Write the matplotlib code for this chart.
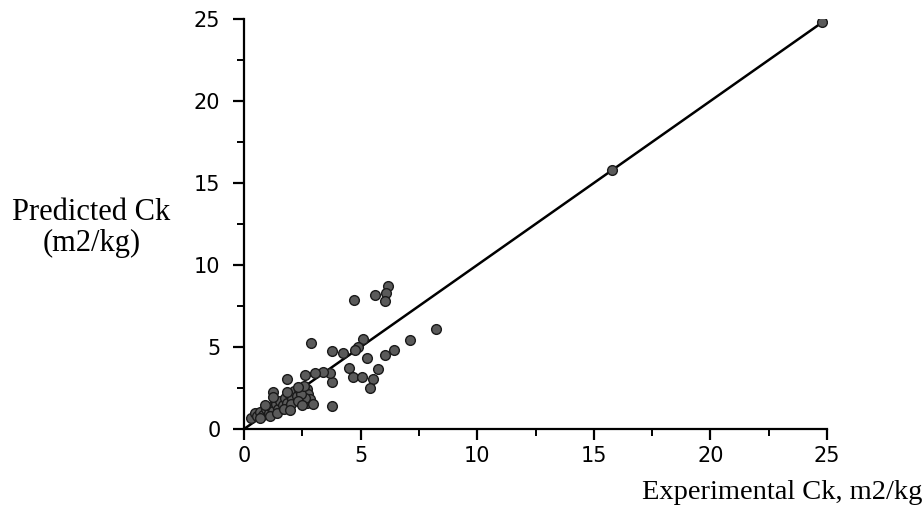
import matplotlib
matplotlib.use('Agg')
import matplotlib.pyplot as plt
from matplotlib.ticker import MultipleLocator

# experimental vs predicted Ck (m2/kg)
exp_ck = [6.19, 6.08, 6.05, 5.62, 4.72, 8.25, 7.12, 6.43, 6.05, 5.26,
          5.12, 4.90, 4.76, 4.26, 3.79, 2.87, 4.52, 4.69, 5.05, 5.76,
          5.52, 5.40, 3.79, 3.79, 3.69, 3.40, 3.04, 2.62, 1.83, 1.26,
          2.69, 2.75, 2.85, 2.70, 2.95, 2.60,
          0.30, 0.45, 0.55, 0.70, 0.80, 0.95, 1.05, 1.15, 1.25, 1.35,
          1.45, 1.55, 1.65, 1.75, 1.85, 1.95, 2.05, 2.15, 2.25, 2.35,
          2.45, 1.10, 1.40, 1.70, 2.00, 2.30, 0.90, 2.55, 0.69, 1.97,
          2.47, 1.26, 1.83, 2.33,
          15.8, 24.8]
pred_ck = [8.72, 8.27, 7.82, 8.19, 7.85, 6.08, 5.45, 4.84, 4.51, 4.31,
           5.47, 5.02, 4.82, 4.65, 4.78, 5.26, 3.70, 3.15, 3.15, 3.64,
           3.03, 2.48, 2.89, 1.40, 3.40, 3.49, 3.40, 3.29, 3.05, 2.24,
           2.45, 2.15, 1.85, 1.60, 1.55, 1.90,
           0.70, 0.95, 0.80, 1.05, 0.85, 1.25, 1.00, 1.35, 1.10, 1.55,
           1.25, 1.70, 1.45, 1.90, 1.60, 2.10, 1.80, 2.30, 2.00, 2.45,
           2.15, 0.80, 1.00, 1.20, 1.50, 1.70, 1.45, 2.60, 0.65, 1.16,
           1.46, 1.97, 2.27, 2.58,
           15.8, 24.8]

# 1:1 line
line_x = [0, 25]
line_y = [0, 25]

fig = plt.figure(figsize=(9.23, 5.19), dpi=100)
ax = fig.add_axes([0.2644, 0.1734, 0.896 - 0.2644, 0.9634 - 0.1734])

ax.plot(line_x, line_y, color='black', lw=1.8, zorder=2)
ax.plot(exp_ck, pred_ck, 'o', ms=7, mfc='#5a5a5a', mec='#1a1a1a', mew=1.0, zorder=3)

ax.set_xlim(0, 25)
ax.set_ylim(0, 25)
ax.xaxis.set_major_locator(MultipleLocator(5))
ax.yaxis.set_major_locator(MultipleLocator(5))
ax.xaxis.set_minor_locator(MultipleLocator(2.5))
ax.yaxis.set_minor_locator(MultipleLocator(2.5))

for s in ['top', 'right']:
    ax.spines[s].set_visible(False)
for s in ['left', 'bottom']:
    ax.spines[s].set_linewidth(1.6)

ax.tick_params(which='major', direction='out', length=8, width=1.6,
               labelsize=15)
ax.tick_params(axis='y', which='major', pad=9)
ax.tick_params(axis='x', which='major', pad=4)
ax.tick_params(which='minor', direction='out', length=5, width=1.4)

ax.text(-0.262, 0.49, 'Predicted Ck\n(m2/kg)', transform=ax.transAxes,
        ha='center', va='center', fontsize=22, family='Liberation Serif',
        linespacing=1.1)
fig.text(0.999, 0.052, 'Experimental Ck, m2/kg', ha='right', va='center',
         fontsize=20.5, family='Liberation Serif')

fig.savefig('out.png', dpi=100)
